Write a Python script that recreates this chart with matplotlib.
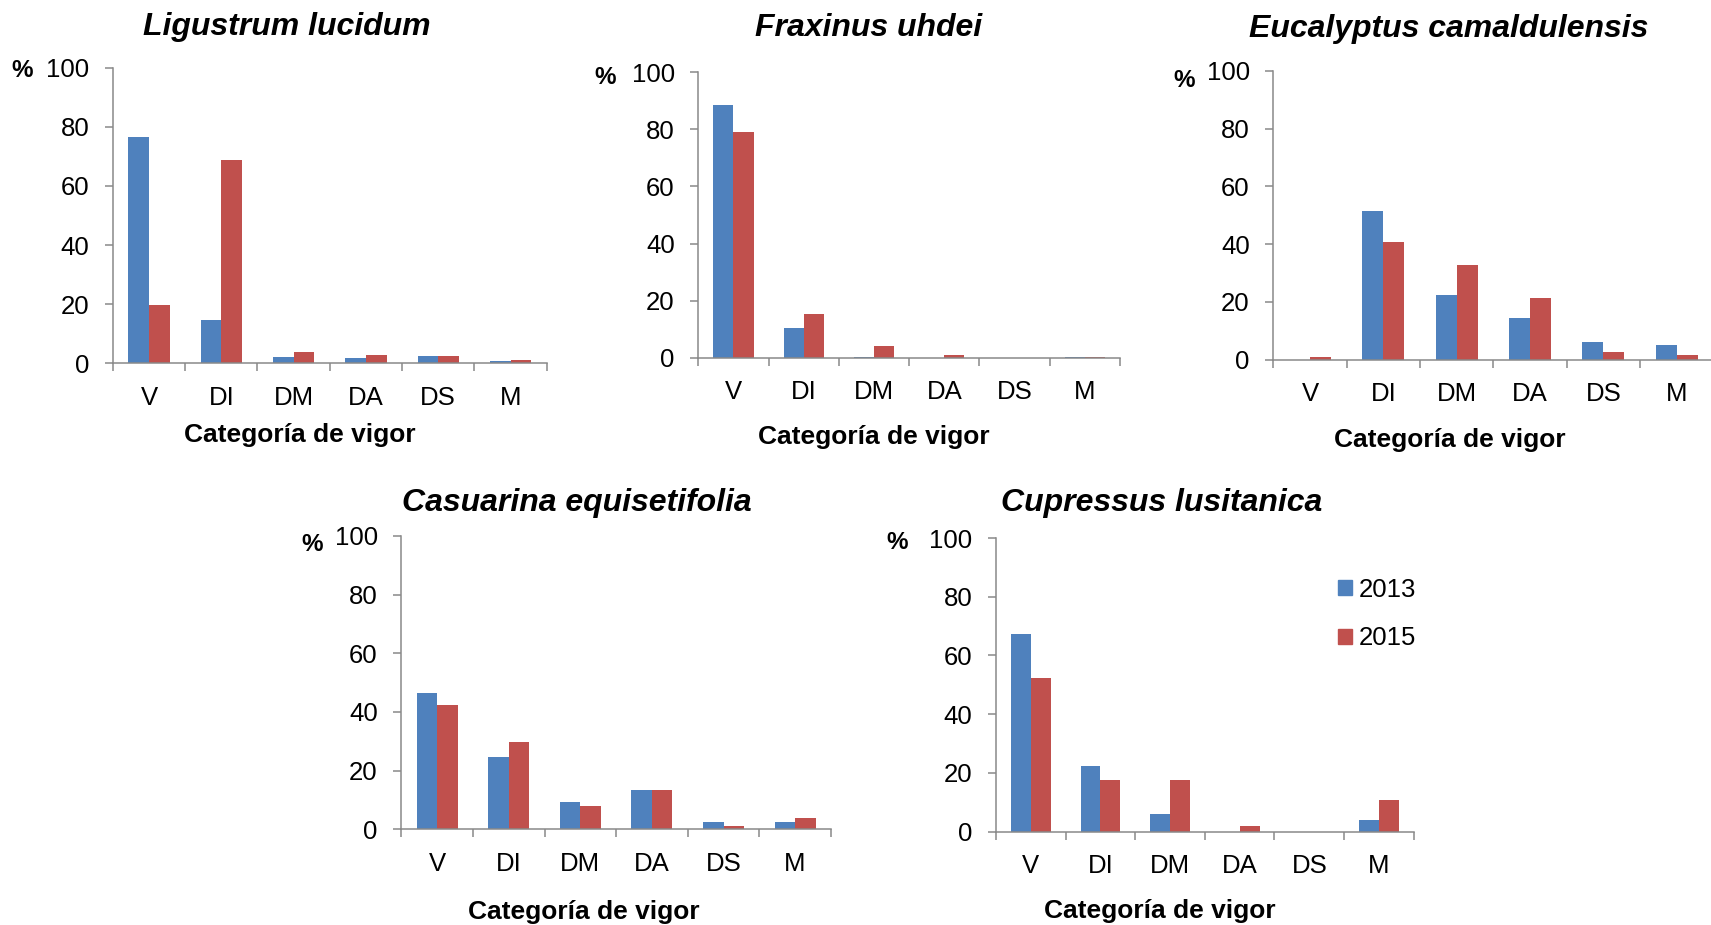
import numpy as np
import matplotlib
matplotlib.use('Agg')
import matplotlib.pyplot as plt
from matplotlib.patches import Patch

plt.rcParams['font.family'] = ['Liberation Sans', 'DejaVu Sans']

W, H = 1711, 925  # figure size in pixels

categorias = ['V', 'DI', 'DM', 'DA', 'DS', 'M']
anios = ['2013', '2015']
especies = ['Ligustrum lucidum', 'Fraxinus uhdei', 'Eucalyptus camaldulensis',
            'Casuarina equisetifolia', 'Cupressus lusitanica']

# porcentaje de arboles por categoria de vigor
ligustrum_2013 = [76.7, 14.8, 2.1, 1.7, 2.5, 0.8]
ligustrum_2015 = [19.7, 68.7, 3.7, 2.9, 2.5, 1.1]
fraxinus_2013 = [88.6, 10.3, 0.35, 0.0, 0.0, 0.35]
fraxinus_2015 = [78.9, 15.4, 4.0, 1.05, 0.0, 0.35]
eucalyptus_2013 = [0.0, 51.4, 22.2, 14.5, 6.2, 5.0]
eucalyptus_2015 = [0.8, 40.6, 32.6, 21.2, 2.7, 1.6]
casuarina_2013 = [46.4, 24.6, 9.4, 13.4, 2.5, 2.5]
casuarina_2015 = [42.3, 29.9, 8.1, 13.4, 1.1, 3.9]
cupressus_2013 = [67.3, 22.4, 6.0, 0.0, 0.0, 4.0]
cupressus_2015 = [52.2, 17.4, 17.4, 2.0, 0.0, 10.8]

datos = [(ligustrum_2013, ligustrum_2015),
         (fraxinus_2013, fraxinus_2015),
         (eucalyptus_2013, eucalyptus_2015),
         (casuarina_2013, casuarina_2015),
         (cupressus_2013, cupressus_2015)]

# layout in pixels: axes left/right, y of 0 and 100, title, "%" and xlabel anchors
paneles = [
    dict(left=112.8, right=546.7, y0=363.4, y100=67.7,
         title=(287.2, 35), pct=(22, 68), xlab=(300, 441.7)),
    dict(left=698.3, right=1120.0, y0=357.9, y100=72.2,
         title=(868.6, 36), pct=(605, 75), xlab=(873.8, 443.7)),
    dict(left=1273.3, right=1713.3, y0=359.5, y100=70.9,
         title=(1448.9, 37), pct=(1184.5, 78), xlab=(1449.6, 447)),
    dict(left=401.4, right=830.9, y0=829.3, y100=535.8,
         title=(576.7, 511), pct=(312.5, 542), xlab=(584, 919.5)),
    dict(left=996.0, right=1413.7, y0=831.5, y100=538.0,
         title=(1161.7, 510.5), pct=(896.7, 540), xlab=(1159.8, 917.9)),
]

azul = '#4F81BD'
rojo = '#C0504D'
gris = '#898989'


def fx(x):
    return x / W


def fy(y):
    return 1 - y / H


fig = plt.figure(figsize=(W / 100, H / 100), dpi=100)

x = np.arange(len(categorias))
w = 1 / 3.5

for especie, (v13, v15), p in zip(especies, datos, paneles):
    ax = fig.add_axes([fx(p['left']), fy(p['y0']),
                       (p['right'] - p['left']) / W, (p['y0'] - p['y100']) / H])
    ax.bar(x - w / 2, v13, w, color=azul, label=anios[0])
    ax.bar(x + w / 2, v15, w, color=rojo, label=anios[1])

    ax.set_xlim(-0.5, len(categorias) - 0.5)
    ax.set_ylim(0, 100)
    ax.set_yticks(np.arange(0, 101, 20))
    ax.set_xticks(x)
    ax.set_xticklabels(categorias)
    ax.set_xticks(np.arange(-0.5, len(categorias), 1), minor=True)

    for s in ['top', 'right']:
        ax.spines[s].set_visible(False)
    for s in ['left', 'bottom']:
        ax.spines[s].set_color(gris)
        ax.spines[s].set_linewidth(1.1)

    ax.tick_params(axis='x', which='major', length=0, pad=16, labelsize=18.5)
    ax.tick_params(axis='x', which='minor', length=5.5, width=1.1, color=gris,
                   direction='out')
    ax.tick_params(axis='y', length=5.5, width=1.1, color=gris, pad=11.5,
                   labelsize=18.5)

    fig.text(fx(p['title'][0]), fy(p['title'][1]), especie, ha='center',
             va='baseline', fontsize=23, fontweight='bold', fontstyle='italic')
    fig.text(fx(p['pct'][0]), fy(p['pct'][1]), '%', ha='center',
             va='center_baseline', fontsize=17.5, fontweight='bold')
    fig.text(fx(p['xlab'][0]), fy(p['xlab'][1]), 'Categoría de vigor',
             ha='center', va='baseline', fontsize=19, fontweight='bold')

# legend only on the last panel
handles = [Patch(color=azul, label=anios[0]), Patch(color=rojo, label=anios[1])]
ax.legend(handles=handles, loc='center left',
          bbox_to_anchor=(fx(1338.3), fy(614)), bbox_transform=fig.transFigure,
          frameon=False, fontsize=18.5, borderpad=0, borderaxespad=0,
          handlelength=0.52, handleheight=0.52, handletextpad=0.26,
          labelspacing=0.95)

fig.savefig('out.png', dpi=100)
